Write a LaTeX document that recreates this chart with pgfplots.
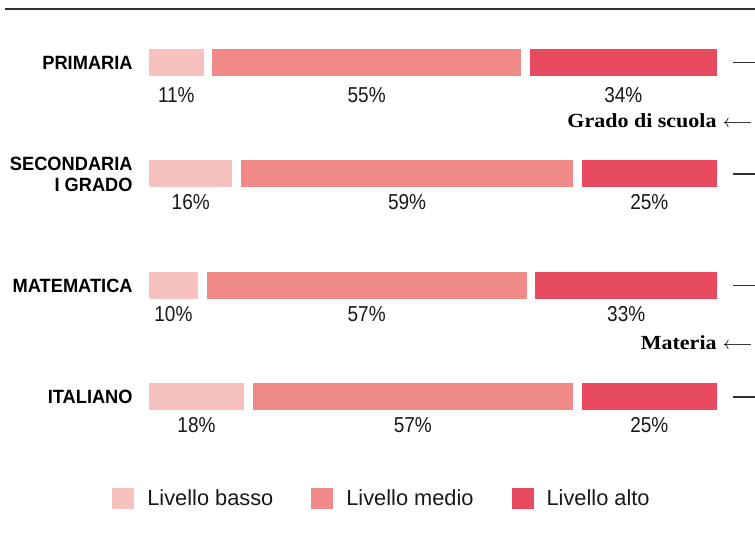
\documentclass[border=0pt]{standalone}
\usepackage{fontspec}
\setmainfont{Liberation Sans}
\newfontfamily\catfont{Liberation Sans}[FakeStretch=0.95]
\newfontfamily\pctfont{Liberation Sans}[FakeStretch=0.88]
\newfontfamily\notefont{Liberation Serif}[FakeStretch=1.1]
\usepackage{pgfplots}
\usepackage{pgfplotstable}
\pgfplotsset{compat=1.18}

\definecolor{cbasso}{RGB}{247,193,189}
\definecolor{cmedio}{RGB}{240,138,136}
\definecolor{calto}{RGB}{232,75,95}
\definecolor{cline}{RGB}{51,51,51}

% quote per livello (%), una riga per gruppo
\pgfplotstableread{
row basso medio alto
0   11    55    34
1   16    59    25
2   10    57    33
3   18    57    25
}\quote

% etichette sotto i segmenti: centro del segmento, riga, valore
\pgfplotstableread{
x    y     v
5.5  0.289 11
38.5 0.289 55
83   0.289 34
8    1.251 16
45.5 1.251 59
87.5 1.251 25
5    2.256 10
38.5 2.256 57
83.5 2.256 33
9    3.251 18
46.5 3.251 57
87.5 3.251 25
}\etichette

\begin{document}
\begin{tikzpicture}
\begin{axis}[
    xbar stacked,
    scale only axis,
    width=288.4pt, height=223pt,
    xmin=0, xmax=100, ymin=-0.5, ymax=3.5,
    y dir=reverse,
    clip=false,
    bar width=17.9pt,
    axis line style={draw=none},
    major tick length=0pt,
    xtick=\empty,
    ytick={0,1,2,3},
    yticklabels={PRIMARIA,{SECONDARIA\\I GRADO},MATEMATICA,ITALIANO},
    yticklabel style={align=right, inner sep=0pt, xshift=-5.8pt,
        font=\catfont\bfseries\fontsize{9.6}{10.5}\selectfont},
    legend image code/.code={\fill[#1,draw=none] (0pt,-5.25pt) rectangle (11pt,5.25pt);},
    legend columns=3,
    legend style={at={(0.4133,-0.1037)}, anchor=center, draw=none, fill=none,
        font=\fontsize{10.9}{12}\selectfont, text=black!90,
        /tikz/every odd column/.append style={column sep=4.5pt},
        /tikz/every even column/.append style={column sep=17pt}},
]
\addplot[fill=cbasso, draw=white, line width=4.4pt] table[x=basso, y=row] {\quote};
\addplot[fill=cmedio, draw=white, line width=4.4pt] table[x=medio, y=row] {\quote};
\addplot[fill=calto, draw=white, line width=4.4pt] table[x=alto, y=row] {\quote};
\legend{Livello basso, Livello medio, Livello alto}
\end{axis}

\begin{axis}[
    scale only axis,
    width=288.4pt, height=223pt,
    xmin=0, xmax=100, ymin=-0.5, ymax=3.5,
    y dir=reverse,
    hide axis,
    clip=false,
]
\addplot[draw=none, mark=none, nodes near coords={\pgfplotspointmeta\%},
    point meta=explicit symbolic,
    nodes near coords style={anchor=center, inner sep=0pt, text=black!90,
        font=\pctfont\fontsize{10.8}{12}\selectfont}]
    table[x=x, y=y, meta=v] {\etichette};
% trattini a destra di ogni barra
\addplot[cline, line width=0.6pt] coordinates {(102,0) (105.83,0)};
\addplot[cline, line width=0.6pt] coordinates {(102,1) (105.83,1)};
\addplot[cline, line width=0.6pt] coordinates {(102,2) (105.83,2)};
\addplot[cline, line width=0.6pt] coordinates {(102,3) (105.83,3)};
\draw[cline, line width=0.75pt] (axis cs:-24.2,-0.4798) -- (axis cs:105.83,-0.4798);
\node[anchor=base east, inner sep=0pt, font=\notefont\bfseries\fontsize{10}{12}\selectfont]
    at (axis cs:99.24,0.585) {Grado di scuola};
\node[anchor=base west, inner sep=0pt, font=\fontsize{9.5}{12}\selectfont]
    at (axis cs:100.2,0.585) {$\longleftarrow$};
\node[anchor=base east, inner sep=0pt, font=\notefont\bfseries\fontsize{10}{12}\selectfont]
    at (axis cs:99.24,2.570) {Materia};
\node[anchor=base west, inner sep=0pt, font=\fontsize{9.5}{12}\selectfont]
    at (axis cs:100.2,2.570) {$\longleftarrow$};
\coordinate (bbA) at (axis cs:-25.07,-0.5605);
\coordinate (bbB) at (axis cs:105.83,4.2646);
\end{axis}
\pgfresetboundingbox
\path[use as bounding box] (bbA) rectangle (bbB);
\end{tikzpicture}
\end{document}
